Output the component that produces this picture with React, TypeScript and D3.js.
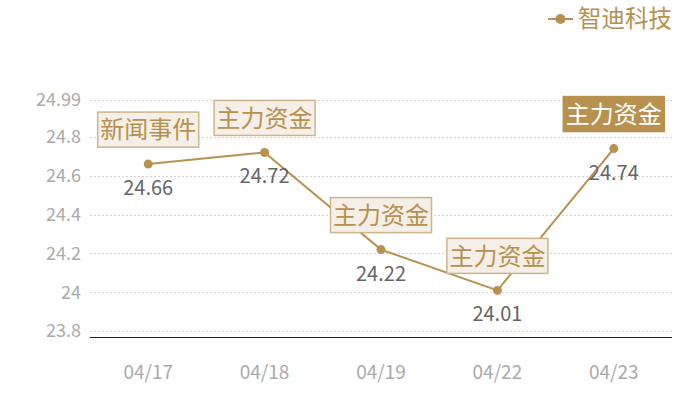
import * as d3 from 'd3';
import * as React from 'react';

const dates = ['04/17', '04/18', '04/19', '04/22', '04/23'];
const prices = [24.66, 24.72, 24.22, 24.01, 24.74];
const events = ['新闻事件', '主力资金', '主力资金', '主力资金', '主力资金'];
const yTicks = [23.8, 24, 24.2, 24.4, 24.6, 24.8, 24.99];
const seriesName = '智迪科技';

const width = 700;
const height = 400;
const gold = '#b8914f';
const font = '"Noto Sans CJK SC", "Noto Sans", sans-serif';

export default function App() {
    const x = d3.scaleBand<string>().domain(dates).range([90, 672]);
    const y = d3.scaleLinear().domain([23.77, 24.99]).range([337, 100]);
    const cx = (d: string) => (x(d) as number) + x.bandwidth() / 2;

    const line = d3.line<number>()
        .x((d, i) => cx(dates[i]))
        .y((d) => y(d));

    const boxW = 101;
    const boxH = 35;

    return (
        <svg width={width} height={height} style={{position: 'absolute', left: 0, top: 0, fontFamily: font}}>
            <g className='grid'>
                {yTicks.map((t) => (
                    <g key={t}>
                        <line x1={90} x2={672} y1={Math.round(y(t)) + 0.5} y2={Math.round(y(t)) + 0.5} stroke='#d0d0d0' strokeDasharray='2,2' />
                        <text x={81} y={y(t)} dy='0.35em' textAnchor='end' fill='#aaa' fontSize={18}>{t}</text>
                    </g>
                ))}
            </g>
            <line x1={90} x2={672} y1={337.5} y2={337.5} stroke='#222' strokeWidth={1} />
            {dates.map((d) => (
                <text key={d} x={cx(d)} y={379} textAnchor='middle' fill='#aaa' fontSize={19}>{d}</text>
            ))}
            <path d={line(prices) as string} fill='none' stroke={gold} strokeWidth={2} />
            {prices.map((p, i) => (
                <g key={i}>
                    <circle cx={cx(dates[i])} cy={y(p)} r={4.5} fill={gold} />
                    <text x={cx(dates[i])} y={y(p) + 31} textAnchor='middle' fill='#666' fontSize={20}>{p}</text>
                </g>
            ))}
            {events.map((e, i) => {
                const last = i === events.length - 1;
                const bx = cx(dates[i]) - boxW / 2;
                const by = y(prices[i]) - 17 - boxH;
                return (
                    <g key={i}>
                        <rect x={bx} y={by} width={boxW} height={boxH}
                            fill={last ? gold : '#f5efe8'} stroke={last ? gold : '#cfb48a'} strokeWidth={1.5} />
                        <text x={cx(dates[i])} y={by + boxH / 2} dy='0.36em' textAnchor='middle'
                            fill={last ? '#fff' : gold} fontSize={24}>{e}</text>
                    </g>
                );
            })}
            <g className='legend'>
                <line x1={548} x2={573} y1={19} y2={19} stroke={gold} strokeWidth={2} />
                <circle cx={560.5} cy={19} r={5} fill={gold} />
                <text x={578} y={19} dy='0.36em' fill={gold} fontSize={23.5}>{seriesName}</text>
            </g>
        </svg>
    );
}
